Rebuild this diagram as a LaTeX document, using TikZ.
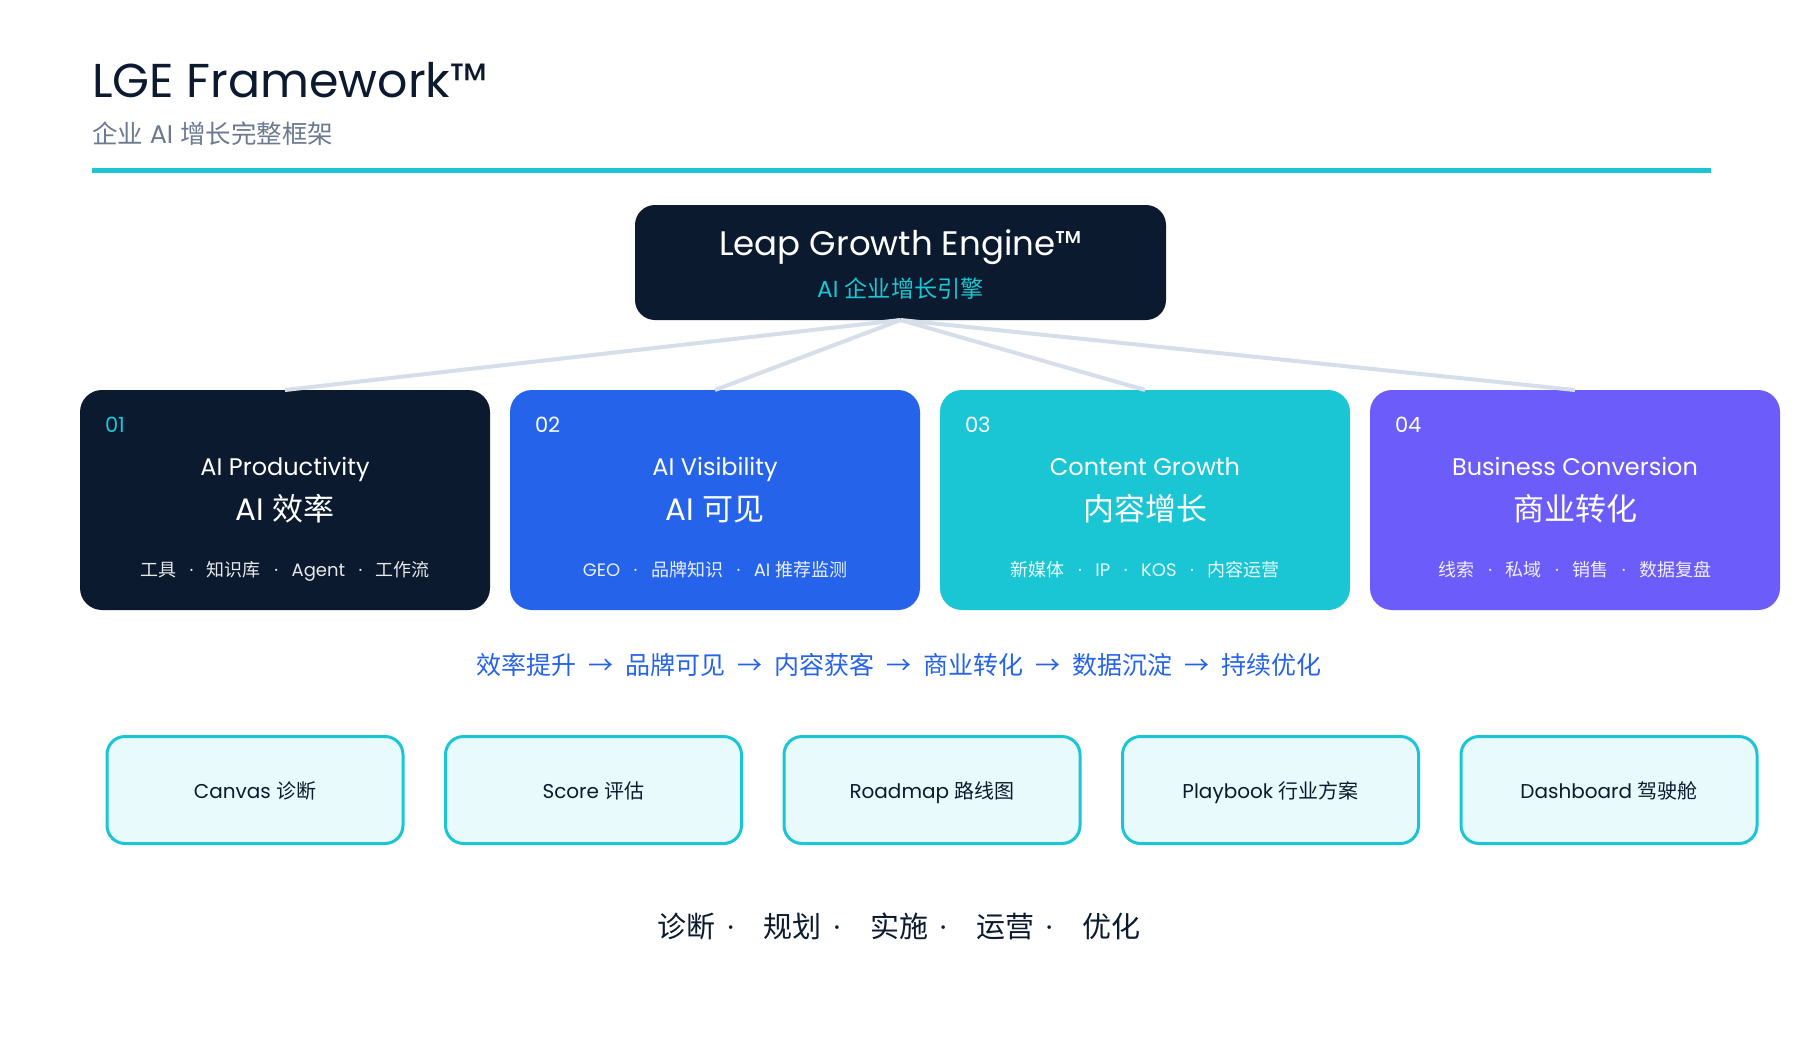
\documentclass[tikz,border=0pt]{standalone}
\usepackage{fontspec}
\setmainfont{Poppins}
\newfontfamily\cjk{Noto Sans CJK SC}
\usetikzlibrary{positioning}

\definecolor{lgnavy}{HTML}{0B1A2E}
\definecolor{lgblue}{HTML}{2563EB}
\definecolor{lgcyan}{HTML}{1AC6D3}
\definecolor{lgviolet}{HTML}{6C5CF9}
\definecolor{lgmint}{HTML}{E8FAFB}
\definecolor{lgline}{HTML}{D6DFE9}
\definecolor{lgslate}{HTML}{6B7A90}

\newcommand{\zh}[1]{{\cjk #1}}
\newcommand{\sepdot}{\hspace{6.75pt}{\normalfont·}\hspace{6.75pt}}
\newcommand{\flowto}{\hspace{6pt}→\hspace{6pt}}
\newcommand{\stepdot}{\hspace{6pt}{\normalfont·}\hspace{15pt}}

\begin{document}
\begin{tikzpicture}[
  x=0.5pt, y=-0.5pt,
  every node/.style={inner sep=0pt, outer sep=0pt},
  card/.style={rounded corners=11pt, minimum width=205pt, minimum height=110pt},
  cardnum/.style={anchor=base west, text=white, font=\fontsize{10.5}{12}\selectfont},
  cardname/.style={anchor=base, text=white, font=\fontsize{12}{14}\selectfont},
  cardzh/.style={anchor=base, text=white, font=\fontsize{15.5}{18}\selectfont},
  carditems/.style={anchor=base, text=white, text opacity=0.9, font=\fontsize{9}{11}\selectfont},
  toolbox/.style={draw=lgcyan, line width=1.5pt, fill=lgmint, rounded corners=9pt,
                  minimum width=148pt, minimum height=53.5pt, text height=10.25pt, text depth=2pt,
                  text=lgnavy, font=\fontsize{10}{12}\selectfont},
  link/.style={draw=lgline, line width=2pt}
]
\fill[white] (0,0) rectangle (1800,1050);
\useasboundingbox (0,0) rectangle (1800,1050);

% header
\node[anchor=base west, text=lgnavy, font=\fontsize{23.75}{28}\selectfont] (title) at (92,97) {LGE Framework™};
\node[anchor=base west, text=lgslate, font=\fontsize{12.75}{15}\selectfont] (subtitle) at (92,143) {\zh{企业} AI \zh{增长完整框架}};
\draw[lgcyan, line width=2.5pt] (92,170) -- (1711,170);

% engine
\node[fill=lgnavy, rounded corners=10pt, minimum width=265.5pt, minimum height=57.5pt] (engine) at (900.5,262.5) {};
\node[anchor=base, text=white, font=\fontsize{17}{20}\selectfont] (enginename) at ([yshift=3.75pt]engine.center) {Leap Growth Engine™};
\node[anchor=base, text=lgcyan, font=\fontsize{11.6}{14}\selectfont] (enginezh) at ([yshift=-17.25pt]engine.center) {AI \zh{企业增长引擎}};

% four cards
\node[card, fill=lgnavy] (c1) at (285,500) {};
\node[card, fill=lgblue, right=10pt of c1] (c2) {};
\node[card, fill=lgcyan, right=10pt of c2] (c3) {};
\node[card, fill=lgviolet, right=10pt of c3] (c4) {};

\draw[link] (engine.south) -- (c1.north);
\draw[link] (engine.south) -- (c2.north);
\draw[link] (engine.south) -- (c3.north);
\draw[link] (engine.south) -- (c4.north);

\node[cardnum, text=lgcyan] (n1) at ([xshift=12.5pt, yshift=-21pt]c1.north west) {01};
\node[cardname] (e1) at ([yshift=-42.5pt]c1.north) {AI Productivity};
\node[cardzh] (z1) at ([yshift=-65pt]c1.north) {AI \zh{效率}};
\node[carditems] (i1) at ([yshift=-93pt]c1.north) {\zh{工具}\sepdot\zh{知识库}\sepdot Agent\sepdot\zh{工作流}};

\node[cardnum] (n2) at ([xshift=12.5pt, yshift=-21pt]c2.north west) {02};
\node[cardname] (e2) at ([yshift=-42.5pt]c2.north) {AI Visibility};
\node[cardzh] (z2) at ([yshift=-65pt]c2.north) {AI \zh{可见}};
\node[carditems] (i2) at ([yshift=-93pt]c2.north) {GEO\sepdot\zh{品牌知识}\sepdot AI \zh{推荐监测}};

\node[cardnum] (n3) at ([xshift=12.5pt, yshift=-21pt]c3.north west) {03};
\node[cardname] (e3) at ([yshift=-42.5pt]c3.north) {Content Growth};
\node[cardzh] (z3) at ([yshift=-65pt]c3.north) {\zh{内容增长}};
\node[carditems] (i3) at ([yshift=-93pt]c3.north) {\zh{新媒体}\sepdot IP\sepdot KOS\sepdot\zh{内容运营}};

\node[cardnum] (n4) at ([xshift=12.5pt, yshift=-21pt]c4.north west) {04};
\node[cardname] (e4) at ([yshift=-42.5pt]c4.north) {Business Conversion};
\node[cardzh] (z4) at ([yshift=-65pt]c4.north) {\zh{商业转化}};
\node[carditems] (i4) at ([yshift=-93pt]c4.north) {\zh{线索}\sepdot\zh{私域}\sepdot\zh{销售}\sepdot\zh{数据复盘}};

% flow line
\node[anchor=base, text=lgblue, font=\cjk\fontsize{12.5}{15}\selectfont] (flow) at (899,674)
  {效率提升\flowto 品牌可见\flowto 内容获客\flowto 商业转化\flowto 数据沉淀\flowto 持续优化};

% tools
\node[toolbox] (b1) at (255,790) {Canvas \zh{诊断}};
\node[toolbox, right=21.25pt of b1] (b2) {Score \zh{评估}};
\node[toolbox, right=21.25pt of b2] (b3) {Roadmap \zh{路线图}};
\node[toolbox, right=21.25pt of b3] (b4) {Playbook \zh{行业方案}};
\node[toolbox, right=21.25pt of b4] (b5) {Dashboard \zh{驾驶舱}};

% method
\node[anchor=base, text=lgnavy, font=\cjk\fontsize{14.5}{17}\selectfont] (method) at (899,937)
  {诊断\stepdot 规划\stepdot 实施\stepdot 运营\stepdot 优化};
\end{tikzpicture}
\end{document}
